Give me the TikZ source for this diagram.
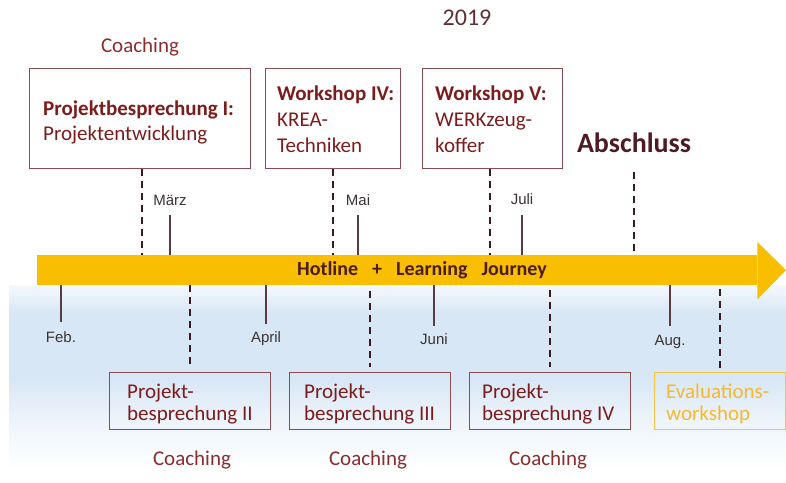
\documentclass[tikz,border=0pt]{standalone}
\usepackage{fontspec}
\usetikzlibrary{calc}
\setmainfont{Carlito}
\newfontfamily\monthfont{Liberation Sans}
\definecolor{boxline}{HTML}{8A4B52}
\definecolor{boxtext}{HTML}{7C1C1C}
\definecolor{coachred}{HTML}{8B2D2D}
\definecolor{yeartext}{HTML}{5B3036}
\definecolor{finaltext}{HTML}{4E1A24}
\definecolor{monthtext}{HTML}{3B3333}
\definecolor{dashcol}{HTML}{3A1A20}
\definecolor{tickcol}{HTML}{5A3C40}
\definecolor{arrowcol}{HTML}{F9BE00}
\definecolor{bartext}{HTML}{4A1C1C}
\definecolor{evalcol}{HTML}{F7C242}
\definecolor{evaltext}{HTML}{F5B82E}
\definecolor{skyblue}{HTML}{D8E7F5}
% soft sky band: light at the top edge, bluest in the upper middle, white at the bottom
\pgfdeclareverticalshading{skyband}{100bp}{%
  color(0bp)=(white); color(28bp)=(white); color(41bp)=(white!50!skyblue);
  color(51bp)=(skyblue); color(68bp)=(skyblue);
  color(75bp)=(white!75!skyblue); color(100bp)=(white!75!skyblue)}
\begin{document}
\begin{tikzpicture}[x=1pt,y=-1pt,
  frame/.style={draw=boxline, line width=1.3pt, rectangle, inner sep=0pt, anchor=north west},
  evalframe/.style={frame, draw=evalcol},
  toptext/.style={anchor=west, align=left, inner sep=0pt, text=boxtext, font=\fontsize{21}{25}\selectfont},
  workshoptext/.style={toptext, font=\fontsize{21}{26}\selectfont},
  lowtext/.style={anchor=west, align=left, inner sep=0pt, text=boxtext, font=\fontsize{21}{22}\selectfont},
  coachlabel/.style={anchor=base, inner sep=0pt, text=coachred, font=\fontsize{21}{25}\selectfont},
  monthlabel/.style={anchor=base, inner sep=0pt, text=monthtext, font=\monthfont\fontsize{15}{18}\selectfont},
  dashconn/.style={draw=dashcol, line width=2pt, dash pattern=on 7pt off 5pt},
  tickline/.style={draw=tickcol, line width=1.3pt},
]
\useasboundingbox (0,0) rectangle (786,482);

% pale sky behind the lower half
\shade[shading=skyband] (9,285) rectangle (786,480);

% timeline arrow
\node[fill=arrowcol, rectangle, inner sep=0pt, minimum width=720pt, minimum height=30pt, anchor=north west]
  (shaft) at (37,255) {};
\fill[arrowcol] (shaft.north east) -- ++(0,-13) -- (786,270) -- ($(shaft.south east)+(0,14)$) -- (shaft.south east) -- cycle;
\node[inner sep=0pt, text=bartext, font=\fontsize{20}{24}\selectfont\bfseries] (bar) at (422,270)
  {Hotline\hspace{0.7em}+\hspace{0.7em}Learning\hspace{0.7em}Journey};

% headings
\node[inner sep=0pt, text=yeartext, font=\fontsize{24}{28}\selectfont] (year) at (467,18) {2019};
\node[coachlabel] (coachA) at (140,52) {Coaching};
\node[anchor=base, inner sep=0pt, text=finaltext, font=\fontsize{28}{32}\selectfont\bfseries] (final) at (634,152) {Abschluss};

% upper boxes
\node[frame, minimum width=221pt, minimum height=100pt] (pb1) at (29,68) {};
\node[toptext] (pb1t) at (43,122.5) {\textbf{Projektbesprechung I:}\\Projektentwicklung};
\node[frame, minimum width=135pt, minimum height=100pt] (ws4) at (265,68) {};
\node[workshoptext] (ws4t) at (277,119) {\textbf{Workshop IV:}\\KREA-\\Techniken};
\node[frame, minimum width=140pt, minimum height=100pt] (ws5) at (422,68) {};
\node[workshoptext] (ws5t) at (435,119) {\textbf{Workshop V:}\\WERKzeug-\\koffer};

% lower boxes
\node[frame, minimum width=161pt, minimum height=57pt] (pb2) at (109,372) {};
\node[lowtext] (pb2t) at (127,404) {Projekt-\\besprechung II};
\node[frame, minimum width=161pt, minimum height=57pt] (pb3) at (289,372) {};
\node[lowtext] (pb3t) at (304,404) {Projekt-\\besprechung III};
\node[frame, minimum width=161pt, minimum height=57pt] (pb4) at (469,372) {};
\node[lowtext] (pb4t) at (482,404) {Projekt-\\besprechung IV};
\node[evalframe, minimum width=131pt, minimum height=57pt] (ev) at (654,372) {};
\node[lowtext, text=evaltext] (evt) at (666,404) {Evaluations-\\workshop};

\node[coachlabel] (coachB) at (192,465) {Coaching};
\node[coachlabel] (coachC) at (368,465) {Coaching};
\node[coachlabel] (coachD) at (548,465) {Coaching};

% months
\node[monthlabel] (feb) at (61,342) {Feb.};
\node[monthlabel] (mar) at (170,205) {März};
\node[monthlabel] (apr) at (266,342) {April};
\node[monthlabel] (mai) at (358,205) {Mai};
\node[monthlabel] (jun) at (434,344) {Juni};
\node[monthlabel] (jul) at (522,204) {Juli};
\node[monthlabel] (aug) at (670,345) {Aug.};

\draw[tickline, shorten <=10pt] (mar.south) -- (mar.south |- shaft.north);
\draw[tickline, shorten <=10pt] (mai.south) -- (mai.south |- shaft.north);
\draw[tickline, shorten <=11pt] (jul.south) -- (jul.south |- shaft.north);
\draw[tickline, shorten >=9pt] (feb.north |- shaft.south) -- (feb.north);
\draw[tickline, shorten >=7pt] (apr.north |- shaft.south) -- (apr.north);
\draw[tickline, shorten >=7pt] (jun.north |- shaft.south) -- (jun.north);
\draw[tickline, shorten >=8pt] (aug.north |- shaft.south) -- (aug.north);

% event connectors
\draw[dashconn] ([xshift=2pt]pb1.south) -- ([xshift=2pt]pb1.south |- shaft.north);
\draw[dashconn] (ws4.south) -- (ws4.south |- shaft.north);
\draw[dashconn] ([xshift=-3pt]ws5.south) -- ([xshift=-3pt]ws5.south |- shaft.north);
\draw[dashconn, shorten <=20pt] (final.south) -- (final.south |- shaft.north);
\draw[dashconn, shorten >=5pt] (pb2.north |- shaft.south) -- (pb2.north);
\draw[dashconn, shorten <=6pt, shorten >=5pt] (pb3.north |- shaft.south) -- (pb3.north);
\draw[dashconn, shorten <=5pt, shorten >=5pt] (pb4.north |- shaft.south) -- (pb4.north);
\draw[dashconn, shorten <=4pt, shorten >=4pt] (ev.north |- shaft.south) -- (ev.north);
\end{tikzpicture}
\end{document}
